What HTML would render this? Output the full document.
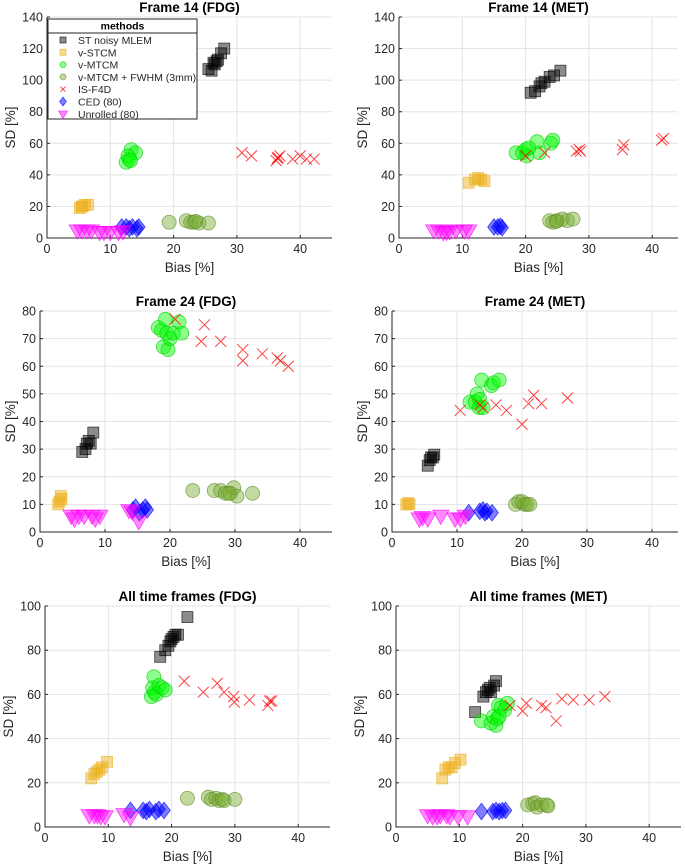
<!DOCTYPE html>
<html><head><meta charset="utf-8"><style>
html,body{margin:0;padding:0;background:#fff;}
svg{display:block;font-family:"Liberation Sans","DejaVu Sans",sans-serif;}
</style></head><body>
<svg id="fig" width="685" height="864" viewBox="0 0 685 864" xmlns="http://www.w3.org/2000/svg"></svg>
<script>
const seriesNames = ["ST noisy MLEM","v-STCM","v-MTCM","v-MTCM + FWHM (3mm)","IS-F4D","CED (80)","Unrolled (80)"];
const xTicks = [0,10,20,30,40];
const yTicks140 = [0,20,40,60,80,100,120,140];
const yTicks80 = [0,10,20,30,40,50,60,70,80];
const yTicks100 = [0,20,40,60,80,100];
const panelTitles = ["Frame 14 (FDG)","Frame 14 (MET)","Frame 24 (FDG)","Frame 24 (MET)","All time frames (FDG)","All time frames (MET)"];

// Frame 14 FDG
const p1_mlem_x=[25.5,26,26.3,26.8,27,27.5,28,26.5], p1_mlem_y=[107,106,111,112,113,117,120,110];
const p1_stcm_x=[5.2,5.6,6,6.5,5.5], p1_stcm_y=[19,20,21,21,20];
const p1_mtcm_x=[12.5,13,13.3,14,12.8,13.2], p1_mtcm_y=[48,50,56,54,52,49];
const p1_fwhm_x=[19.3,22,22.7,23.2,24,25.5,23.5], p1_fwhm_y=[10,11,10,10,9.5,9.5,10.5];
const p1_is_x=[30.8,32.3,36.2,36.5,36.8,38.8,40,41,42.2,36.4], p1_is_y=[54,52,49,51,52,50,52,50,50,50.5];
const p1_ced_x=[11.8,12.5,13,13.5,14.2,14.5], p1_ced_y=[7,7,6,7,6,7];
const p1_unr_x=[4.8,5.5,6.3,7,8.3,9,10,11.3,12], p1_unr_y=[5,5,5,5,4,4,4,4,4.5];
// Frame 14 MET
const p2_mlem_x=[20.8,21.5,22.2,22.5,23,23.8,24.5,25.5], p2_mlem_y=[92,93,96,98,99,102,103,106];
const p2_stcm_x=[11,12,12.5,13,13.5], p2_stcm_y=[35,37,38,37,36];
const p2_mtcm_x=[18.5,19.5,20,20.2,21.8,22.2,24,24.3,20.5], p2_mtcm_y=[54,54,56,52,61,54,60,62,57];
const p2_fwhm_x=[23.8,24.3,25,25.8,26.6,27.5,24.8], p2_fwhm_y=[11,10,11,12,11,12,10.5];
const p2_is_x=[20,23,28,28.5,28.7,35.3,35.5,41.5,41.8], p2_is_y=[52,54,55,56,55,56,59,62,63];
const p2_ced_x=[15,15.6,16,16.3], p2_ced_y=[7,7,7.5,6.5];
const p2_unr_x=[5.5,6.3,7,7.5,8,9,10.3,11], p2_unr_y=[5,5,4,4,4.5,5,5,5];
// Frame 24 FDG
const p3_mlem_x=[6.5,7,7.2,7.5,7.8,8.2], p3_mlem_y=[29,30,32,33,32,36];
const p3_stcm_x=[2.8,3,3.2,3.3], p3_stcm_y=[10,11,13,12];
const p3_mtcm_x=[18.2,18.7,19,19.3,19.5,19.7,20,20.5,21.4,21.8], p3_mtcm_y=[74,73,67,77,72,66,70,72,76,72];
const p3_fwhm_x=[23.5,26.8,27.8,28.5,29.3,29.8,30.3,29,32.7], p3_fwhm_y=[15,15,15,14,14,16,13,14,14];
const p3_is_x=[20.8,24.8,25.3,27.8,31.2,31.2,34.2,36.5,37,38.2], p3_is_y=[77,69,75,69,66,62,64.5,63,62,60];
const p3_ced_x=[14.3,14.7,15.3,15.8,16.2,16.5], p3_ced_y=[8,9,7,8,9,8];
const p3_unr_x=[4.8,5.3,6,6.8,8,8.5,9.2,13.7,14.2,15.2], p3_unr_y=[6,5,6,6,6,5,6,8,7.5,4];
// Frame 24 MET
const p4_mlem_x=[5.5,5.8,6,6.3,6.5], p4_mlem_y=[24,26,27,27,28];
const p4_stcm_x=[2.2,2.5,2.7], p4_stcm_y=[10,10.5,10];
const p4_mtcm_x=[12,12.8,13.1,13.4,13.5,13.8,14,15.3,15.6,16.5], p4_mtcm_y=[47,47,50,45,48,55,45,53,54,55];
const p4_fwhm_x=[19,19.5,20,20.4,20.8,21.2], p4_fwhm_y=[10,11,11,10,10,10];
const p4_is_x=[10.5,13.5,14,16,17.6,20,21,21.8,23,27], p4_is_y=[44,46,45,46,44,39,46.5,49.5,46.5,48.5];
const p4_ced_x=[11.8,13.5,14,14.3,14.6,15.4], p4_ced_y=[7,7.5,8,7,7.5,7];
const p4_unr_x=[4.2,4.7,5.5,7.5,9.7,10.5,11.3], p4_unr_y=[5,5.5,5,6,5,5,6];
// All FDG
const p5_mlem_x=[18.2,19,19.5,19.8,20,20.3,20.6,21,22.5], p5_mlem_y=[77,80,82,84,85,86,87,87,95];
const p5_stcm_x=[7.3,7.8,8.2,8.6,9,9.8], p5_stcm_y=[22,24,25,26,27,29.5];
const p5_mtcm_x=[16.8,17,17.2,17.3,17.6,18,18.5,19], p5_mtcm_y=[59,63,68,61,60,64,63,62];
const p5_fwhm_x=[22.5,25.8,26.3,27,27.5,28,28.3,30], p5_fwhm_y=[13,13.5,12.5,13,12,12.5,12,12.5];
const p5_is_x=[22,25,27.2,28.3,29.8,29.9,32.3,35.2,35.5,35.8], p5_is_y=[66,61,65,61,59,56.5,57.5,55,57,57];
const p5_ced_x=[13.5,15.5,16,16.5,17.5,18,18.8], p5_ced_y=[7.5,7.5,7,8,7,8,7.5];
const p5_unr_x=[7,7.8,8.3,8.8,9.5,12.5,13.5], p5_unr_y=[5.5,5.5,5.5,5,5,6,4.5];
// All MET
const p6_mlem_x=[12.5,13.8,14.2,14.5,14.8,15,15.5,15.8], p6_mlem_y=[52,59,61,62,63,61,64,66];
const p6_stcm_x=[7.3,7.8,8.3,8.8,9.3,10.2], p6_stcm_y=[22,26,27,27,29,30.5];
const p6_mtcm_x=[13.5,15,15.4,15.8,16,16.2,16.6,17.2,17.6,16.3], p6_mtcm_y=[48,47,50,46,49,55,54,53,56,50];
const p6_fwhm_x=[20.8,21.6,22,22.3,23,23.8,24], p6_fwhm_y=[10,10.5,11,9,10,10,9.5];
const p6_is_x=[18,20,20.6,23,23.7,25.3,26.2,28,30.5,33], p6_is_y=[55,52.5,56,55,54,48,58,57.5,57.5,59];
const p6_ced_x=[13.5,15.3,15.8,16.3,16.8,17.3], p6_ced_y=[7,7,7.5,7,7.5,7.5];
const p6_unr_x=[5,5.8,6.5,7,8,8.5,9.8,11.3], p6_unr_y=[5.5,5,5,5.5,5.5,5,5,5];

const NS="http://www.w3.org/2000/svg";
const svg=document.getElementById('fig');
function mk(tag,attrs,parent){const e=document.createElementNS(NS,tag);for(const k in attrs)e.setAttribute(k,attrs[k]);(parent||svg).appendChild(e);return e;}

const styles=[
 {shape:'sq',fill:'#000',stroke:'#000',fo:0.45},
 {shape:'sq',fill:'#EDB120',stroke:'#EDB120',fo:0.5},
 {shape:'ci',fill:'#00ff00',stroke:'#00cc00',fo:0.45},
 {shape:'ci',fill:'#77AC30',stroke:'#5f8a26',fo:0.45},
 {shape:'x',fill:'none',stroke:'#ff0000',fo:0},
 {shape:'di',fill:'#0000ff',stroke:'#0000ff',fo:0.5},
 {shape:'tri',fill:'#ff00ff',stroke:'#ff00ff',fo:0.45}
];
const markNames=['mlem-marker','stcm-marker','mtcm-marker','mtcm-fwhm-marker','is-f4d-marker','ced-marker','unrolled-marker'];

function marker(g,si,cx,cy,s){
 const st=styles[si];let e;
 if(st.shape==='sq'){e=mk('rect',{x:cx-s/2,y:cy-s/2,width:s,height:s},g);}
 else if(st.shape==='ci'){e=mk('circle',{cx:cx,cy:cy,r:s/2},g);}
 else if(st.shape==='di'){const h=s*0.55,w=s*0.42;e=mk('polygon',{points:`${cx},${cy-h} ${cx+w},${cy} ${cx},${cy+h} ${cx-w},${cy}`},g);}
 else if(st.shape==='tri'){const w=s*0.55;e=mk('polygon',{points:`${cx-w},${cy-s*0.35} ${cx+w},${cy-s*0.35} ${cx},${cy+s*0.6}`},g);}
 else {const h=s/2;e=mk('path',{d:`M${cx-h},${cy-h}L${cx+h},${cy+h}M${cx-h},${cy+h}L${cx+h},${cy-h}`},g);}
 e.setAttribute('fill',st.fill);
 if(st.fo)e.setAttribute('fill-opacity',st.fo);
 e.setAttribute('stroke',st.stroke);
 e.setAttribute('stroke-opacity',st.shape==='x'?0.75:0.7);
 e.setAttribute('stroke-width',st.shape==='x'?1:0.8);
 return e;
}

const panels=[
 {x0:47,pu:6.33,xr:332,yt:17,yb:238,ymax:140,yt_:yTicks140,d:[[p1_mlem_x,p1_mlem_y],[p1_stcm_x,p1_stcm_y],[p1_mtcm_x,p1_mtcm_y],[p1_fwhm_x,p1_fwhm_y],[p1_is_x,p1_is_y],[p1_ced_x,p1_ced_y],[p1_unr_x,p1_unr_y]]},
 {x0:399,pu:6.33,xr:678,yt:17,yb:238,ymax:140,yt_:yTicks140,d:[[p2_mlem_x,p2_mlem_y],[p2_stcm_x,p2_stcm_y],[p2_mtcm_x,p2_mtcm_y],[p2_fwhm_x,p2_fwhm_y],[p2_is_x,p2_is_y],[p2_ced_x,p2_ced_y],[p2_unr_x,p2_unr_y]]},
 {x0:40,pu:6.5,xr:332,yt:311,yb:532,ymax:80,yt_:yTicks80,d:[[p3_mlem_x,p3_mlem_y],[p3_stcm_x,p3_stcm_y],[p3_mtcm_x,p3_mtcm_y],[p3_fwhm_x,p3_fwhm_y],[p3_is_x,p3_is_y],[p3_ced_x,p3_ced_y],[p3_unr_x,p3_unr_y]]},
 {x0:392,pu:6.5,xr:678,yt:311,yb:532,ymax:80,yt_:yTicks80,d:[[p4_mlem_x,p4_mlem_y],[p4_stcm_x,p4_stcm_y],[p4_mtcm_x,p4_mtcm_y],[p4_fwhm_x,p4_fwhm_y],[p4_is_x,p4_is_y],[p4_ced_x,p4_ced_y],[p4_unr_x,p4_unr_y]]},
 {x0:45,pu:6.33,xr:330,yt:606,yb:827,ymax:100,yt_:yTicks100,d:[[p5_mlem_x,p5_mlem_y],[p5_stcm_x,p5_stcm_y],[p5_mtcm_x,p5_mtcm_y],[p5_fwhm_x,p5_fwhm_y],[p5_is_x,p5_is_y],[p5_ced_x,p5_ced_y],[p5_unr_x,p5_unr_y]]},
 {x0:396,pu:6.33,xr:681,yt:606,yb:827,ymax:100,yt_:yTicks100,d:[[p6_mlem_x,p6_mlem_y],[p6_stcm_x,p6_stcm_y],[p6_mtcm_x,p6_mtcm_y],[p6_fwhm_x,p6_fwhm_y],[p6_is_x,p6_is_y],[p6_ced_x,p6_ced_y],[p6_unr_x,p6_unr_y]]}
];
const sizes=[11,11,14,14,11,15,15];

panels.forEach((p,pi)=>{
 const g=mk('g',{});
 
 
 const sx=v=>p.x0+v*p.pu, sy=v=>p.yb-v/p.ymax*(p.yb-p.yt);
 xTicks.forEach(t=>{const l=mk('line',{x1:sx(t),x2:sx(t),y1:p.yt,y2:p.yb,stroke:'#e3e3e3','stroke-width':1},g);
  });
 p.yt_.forEach(t=>{const l=mk('line',{x1:p.x0,x2:p.xr,y1:sy(t),y2:sy(t),stroke:'#e3e3e3','stroke-width':1},g);
  });
 const ax=mk('path',{d:`M${p.x0},${p.yt}V${p.yb}H${p.xr}`,fill:'none',stroke:'#262626','stroke-width':1},g);
 
 xTicks.forEach(t=>{
  mk('line',{x1:sx(t),x2:sx(t),y1:p.yb,y2:p.yb-3,stroke:'#262626'},g);
  const tx=mk('text',{x:sx(t),y:p.yb+15,'text-anchor':'middle','font-size':12.5,fill:'#262626'},g);tx.textContent=t;
  
 });
 p.yt_.forEach(t=>{
  mk('line',{x1:p.x0,x2:p.x0+3,y1:sy(t),y2:sy(t),stroke:'#262626'},g);
  const tx=mk('text',{x:p.x0-4,y:sy(t)+4.5,'text-anchor':'end','font-size':12.5,fill:'#262626'},g);tx.textContent=t;
  
 });
 const tt=mk('text',{x:(p.x0+p.xr)/2,y:p.yt-5,'text-anchor':'middle','font-size':13.5,'font-weight':'bold',fill:'#000'},g);
 tt.textContent=panelTitles[pi];
 const xl=mk('text',{x:(p.x0+p.xr)/2,y:p.yb+34,'text-anchor':'middle','font-size':13.5,fill:'#262626'},g);
 xl.textContent='Bias [%]';
 const yx=p.x0-(p.ymax===80?25:32), yc=(p.yt+p.yb)/2;
 const yl=mk('text',{x:yx,y:yc,'text-anchor':'middle','font-size':13.5,fill:'#262626',transform:`rotate(-90 ${yx} ${yc})`},g);
 yl.textContent='SD [%]';
 p.d.forEach((s,si)=>{
  const sg=mk('g',{},g);
  
  
  s[0].forEach((xv,i)=>{
   const m=marker(sg,si,sx(xv),sy(s[1][i]),sizes[si]);
   
   
  });
 });
});

const lg=mk('g',{});


mk('rect',{x:48,y:19,width:149,height:100,fill:'#fff',stroke:'#262626','stroke-width':1},lg);
mk('line',{x1:48,x2:197,y1:33,y2:33,stroke:'#262626'},lg);
const lh=mk('text',{x:122.5,y:29.5,'text-anchor':'middle','font-size':10.5,'font-weight':'bold',fill:'#000'},lg);
lh.textContent='methods';
seriesNames.forEach((n,i)=>{
 const y=40+i*12.3;
 const e=mk('g',{},lg);
 
 
 marker(e,i,63,y,i===4?5:(i>=5?8:6));
 const t=mk('text',{x:78,y:y+4,'font-size':10.5,fill:'#262626'},e);t.textContent=n;
});
</script>
</body></html>
